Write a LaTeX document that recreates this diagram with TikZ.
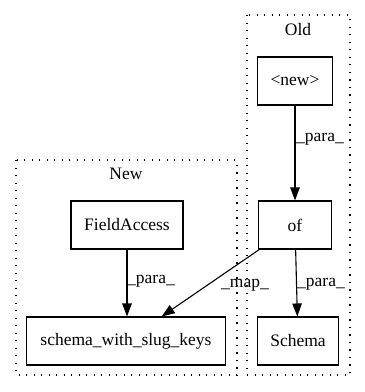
\documentclass[tikz,border=0pt]{standalone}
\usepackage{fontspec}
\setmainfont{Liberation Serif}
\usetikzlibrary{arrows.meta}
\begin{document}
\begin{tikzpicture}[x=1bp,y=-1bp,
  every node/.style={font=\fontsize{17.5bp}{20bp}\selectfont},
  opbox/.style={draw, line width=1.1bp, minimum height=48bp, inner sep=0pt},
  cluster/.style={draw, line width=1.3bp, dash pattern=on 1.3bp off 6.2bp},
  flow/.style={draw, line width=1.1bp, -{Triangle[length=13bp,width=9.5bp]}},
  elabel/.style={inner sep=0pt}]
\useasboundingbox (0,0) rectangle (365,392);

% clusters
\draw[cluster] (16,160) rectangle (237,375);
\node (newlbl) at (126,174) {New};
\draw[cluster] (247,15) rectangle (350,375);
\node (oldlbl) at (298,30) {Old};

% nodes
\node[opbox, minimum width=112bp] (fa) at (127,225) {FieldAccess};
\node[opbox, minimum width=199bp] (swsk) at (126,341) {schema\_with\_slug\_keys};
\node[opbox, minimum width=75bp] (nw) at (295,81) {<new>};
\node[opbox, minimum width=73bp] (of) at (295,225) {of};
\node[opbox, minimum width=81bp] (schema) at (298,341) {Schema};

% edges
\draw[flow] (fa) -- (fa |- swsk.north);
\node[elabel] (l1) at (151,281) {\_para\_};
\draw[flow] (nw) -- (of);
\node[elabel] (l2) at (320,139) {\_para\_};
\draw[flow] (of) -- (schema);
\node[elabel] (l3) at (321,284) {\_para\_};
\draw[flow] (of) -- (swsk);
\node[elabel] (l4) at (245,285) {\_map\_};
\end{tikzpicture}
\end{document}
